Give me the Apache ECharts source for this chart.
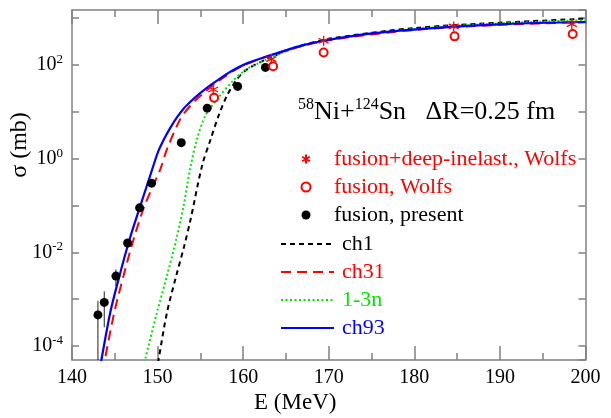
<!DOCTYPE html>
<html>
<head>
<meta charset="utf-8">
<script src="https://cdn.jsdelivr.net/npm/echarts@6/dist/echarts.min.js"></script>
<style>
  html, body { margin: 0; padding: 0; background: #fff; }
  #chart { width: 611px; height: 418px; }
</style>
</head>
<body>
<div id="chart"></div>
<script>
// ---- data (E in MeV, sigma in mb) ----
var presentE   = [143.03, 143.77, 145.13, 146.5, 147.9, 149.3, 152.77, 155.8, 159.36, 162.6];
var presentSig = [4.6e-4, 8.5e-4, 3.1e-3, 1.58e-2, 0.089, 0.30, 2.2, 12, 35, 89];
var presentLo  = [1e-5, 2.5e-4, 1.9e-3, 1.45e-2, 0.082, 0.28, 2.05, 11.2, 33, 85];
var presentHi  = [9.2e-4, 1.46e-3, 4.3e-3, 1.72e-2, 0.096, 0.32, 2.35, 12.8, 37, 93];

var deepE   = [156.5, 163.3, 169.4, 184.6, 198.4];
var deepSig = [30, 134, 330, 670, 750];

var wolfsE   = [156.6, 163.5, 169.4, 184.7, 198.5];
var wolfsSig = [20, 94, 186, 410, 460];
var wolfsLo  = [16, 76, 150, 330, 370];
var wolfsHi  = [25, 118, 232, 512, 575];

var ch1E   = [149.85, 150.12, 151.1, 152.19, 153.12, 153.82, 155.2, 156.2, 157.13, 158.1, 159.29, 160.45, 162.8, 166, 170, 180, 190.66, 200];
var ch1Sig = [2.8e-5, 5.2e-5, 5.2e-4, 3.2e-3, 0.0138, 0.047, 0.71, 2.6, 8.3, 22, 50, 81, 135, 234, 363, 617, 813, 977];

var ch31E   = [143.6, 143.85, 144.94, 146.03, 147.2, 148.48, 150.32, 151.1, 152.65, 153.82, 155.0, 157.0, 160.0, 165, 170, 180, 190, 200];
var ch31Sig = [2.8e-5, 5.2e-5, 5.2e-4, 3.2e-3, 0.019, 0.099, 0.60, 1.6, 7.0, 13.5, 22, 44, 98, 204, 339, 562, 724, 822];

var n13E   = [148.3, 148.56, 149.93, 151.1, 152.19, 153.04, 153.82, 154.6, 155.58, 156.95, 158.8, 160.3, 161.6, 165.5, 170, 180, 190, 200];
var n13Sig = [2.8e-5, 5.2e-5, 5.2e-4, 3.2e-3, 0.019, 0.099, 0.63, 2.6, 8.3, 18.6, 46, 79, 105, 214, 347, 589, 776, 912];

var ch93E   = [143.2, 143.45, 144.47, 145.56, 146.73, 147.98, 149.38, 150.0, 150.7, 151.5, 152.3, 153.04, 153.8, 154.6, 155.6, 156.6, 158.5, 160.5, 163.2, 166.7, 169.4, 175.3, 183.0, 190.7, 200];
var ch93Sig = [2.8e-5, 5.2e-5, 5.2e-4, 3.2e-3, 0.019, 0.098, 0.60, 1.32, 2.5, 4.6, 7.8, 11.7, 16.2, 22, 31, 42, 72, 110, 162, 257, 331, 479, 631, 752, 832];

var xTicks = { min: 140, max: 200, step: 10 };
var yRange = { min: 5e-5, max: 1.5e3 };

function zip(a, b) { return a.map(function (v, i) { return [v, b[i]]; }); }
function zip3(a, b, c) { return a.map(function (v, i) { return [v, b[i], c[i]]; }); }

var FONT = '"Liberation Serif", "DejaVu Serif", serif';
var AXIS = '#808080';
var GREEN = '#00e600';

function errBar(color) {
  return function (params, api) {
    var p1 = api.coord([api.value(0), api.value(1)]);
    var p2 = api.coord([api.value(0), api.value(2)]);
    return {
      type: 'line',
      shape: { x1: p1[0], y1: p1[1], x2: p2[0], y2: p2[1] },
      style: { stroke: color, lineWidth: 1 }
    };
  };
}

var asterisk = 'path://M5 0 L5 10 M0.67 2.5 L9.33 7.5 M0.67 7.5 L9.33 2.5';

var chart = echarts.init(document.getElementById('chart'));
chart.setOption({
  animation: false,
  backgroundColor: '#fff',
  grid: { left: 72, right: 25.5, top: 10, bottom: 58, outerBoundsMode: 'none' },
  title: {
    left: 298, top: 97, padding: 0,
    text: '{s|58}{b|Ni+}{s|124}{b|Sn   ΔR=0.25 fm}',
    textStyle: {
      fontWeight: 'normal',
      rich: {
        b: { fontFamily: FONT, fontSize: 26, fontWeight: 'normal', color: '#000', lineHeight: 30 },
        s: { fontFamily: FONT, fontSize: 16, fontWeight: 'normal', color: '#000', verticalAlign: 'top', lineHeight: 30 }
      }
    }
  },
  legend: [{
    orient: 'vertical', left: 300.5, top: 145, padding: 0, itemGap: 0,
    itemWidth: 9, itemHeight: 9,
    textStyle: { fontFamily: FONT, fontSize: 22, lineHeight: 28, padding: [0, 0, 0, 18.5] },
    data: [
      { name: 'fusion+deep-inelast., Wolfs', textStyle: { color: '#ff0000' } },
      { name: 'fusion, Wolfs', textStyle: { color: '#ff0000' } },
      { name: 'fusion, present', textStyle: { color: '#000' } }
    ]
  }, {
    orient: 'vertical', left: 280, top: 230, padding: 0, itemGap: 0,
    itemWidth: 53, itemHeight: 14,
    itemStyle: { opacity: 0 },
    textStyle: { fontFamily: FONT, fontSize: 22, lineHeight: 28, padding: [0, 0, 0, 3] },
    data: [
      { name: 'ch1', textStyle: { color: '#000' } },
      { name: 'ch31', textStyle: { color: '#ff0000' } },
      { name: '1-3n', textStyle: { color: GREEN } },
      { name: 'ch93', textStyle: { color: '#0000ff' } }
    ]
  }],
  xAxis: [{
    type: 'value', min: xTicks.min, max: xTicks.max, interval: xTicks.step,
    name: 'E (MeV)', nameLocation: 'middle', nameGap: 31, nameMoveOverlap: false,
    nameTextStyle: { fontFamily: FONT, fontSize: 23, color: '#000', padding: [0, 67, 0, 0] },
    axisLine: { lineStyle: { color: AXIS, width: 1.5 } },
    axisTick: { inside: true, length: 14, lineStyle: { color: AXIS, width: 1.5 } },
    minorTick: { show: true, splitNumber: 2, length: 7, lineStyle: { color: AXIS, width: 1.5 } },
    axisLabel: { fontFamily: FONT, fontSize: 20, color: '#000', margin: 8 },
    splitLine: { show: false }
  }, {
    type: 'value', position: 'top', min: xTicks.min, max: xTicks.max, interval: xTicks.step,
    axisLine: { lineStyle: { color: AXIS, width: 1.5 } },
    axisTick: { inside: true, length: 14, lineStyle: { color: AXIS, width: 1.5 } },
    minorTick: { show: true, splitNumber: 2, length: 7, lineStyle: { color: AXIS, width: 1.5 } },
    axisLabel: { show: false },
    splitLine: { show: false }
  }],
  yAxis: [{
    type: 'log', logBase: 10, min: yRange.min, max: yRange.max,
    name: 'σ (mb)', nameLocation: 'middle', nameGap: 40, nameMoveOverlap: false,
    nameTextStyle: { fontFamily: FONT, fontSize: 24, color: '#000', padding: [0, 0, 0, 80] },
    axisLine: { lineStyle: { color: AXIS, width: 1.5 } },
    axisTick: { inside: true, length: 7, lineStyle: { color: AXIS, width: 1.5 } },
    axisLabel: {
      margin: 9, showMinLabel: false, showMaxLabel: false,
      formatter: function (v) {
        var l = Math.log10(v), n = Math.round(l);
        if (Math.abs(l - n) > 1e-6 || n % 2 !== 0) return '';
        return '{b|10}{s|' + n + '}';
      },
      rich: {
        b: { fontFamily: FONT, fontSize: 20, color: '#000', lineHeight: 24 },
        s: { fontFamily: FONT, fontSize: 13, color: '#000', verticalAlign: 'top', lineHeight: 24 }
      }
    },
    splitLine: { show: false }
  }, {
    type: 'log', logBase: 10, min: yRange.min, max: yRange.max, position: 'right',
    axisLine: { lineStyle: { color: AXIS, width: 1.5 } },
    axisTick: { inside: true, length: 7, lineStyle: { color: AXIS, width: 1.5 } },
    axisLabel: { show: false },
    splitLine: { show: false }
  }],
  series: [
    { name: 'ch1', type: 'line', symbol: 'none', smooth: 0.3, data: zip(ch1E, ch1Sig),
      lineStyle: { color: '#000', width: 2, type: [5, 4] }, itemStyle: { color: '#000' } },
    { name: '1-3n', type: 'line', symbol: 'none', smooth: 0.3, data: zip(n13E, n13Sig),
      lineStyle: { color: GREEN, width: 2, type: [2, 2.5] }, itemStyle: { color: GREEN } },
    { name: 'ch31', type: 'line', symbol: 'none', smooth: 0.3, data: zip(ch31E, ch31Sig),
      lineStyle: { color: '#ff0000', width: 2, type: [10, 6] }, itemStyle: { color: '#ff0000' } },
    { name: 'ch93', type: 'line', symbol: 'none', smooth: 0.3, data: zip(ch93E, ch93Sig),
      lineStyle: { color: '#0000ff', width: 2.2 }, itemStyle: { color: '#0000ff' } },
    { name: 'fusion, present', type: 'scatter', symbol: 'circle', symbolSize: 9,
      data: zip(presentE, presentSig), itemStyle: { color: '#000', opacity: 1 }, z: 4 },
    { name: 'fusion, Wolfs', type: 'scatter', symbol: 'emptyCircle', symbolSize: 8,
      data: zip(wolfsE, wolfsSig), itemStyle: { color: '#ff0000', borderColor: '#ff0000', borderWidth: 1, opacity: 1 }, z: 4 },
    { name: 'fusion+deep-inelast., Wolfs', type: 'scatter', symbol: asterisk, symbolSize: 10,
      data: zip(deepE, deepSig),
      itemStyle: { color: 'rgba(0,0,0,0)', borderColor: '#ff0000', borderWidth: 1.3, opacity: 1 }, z: 4 },
    { name: 'err-present', type: 'custom', renderItem: errBar('#222'), clip: true,
      data: zip3(presentE, presentLo, presentHi), z: 3 },
    { name: 'err-wolfs', type: 'custom', renderItem: errBar('#ff0000'), clip: true,
      data: zip3(wolfsE, wolfsLo, wolfsHi), z: 3 }
  ]
});
</script>
</body>
</html>
